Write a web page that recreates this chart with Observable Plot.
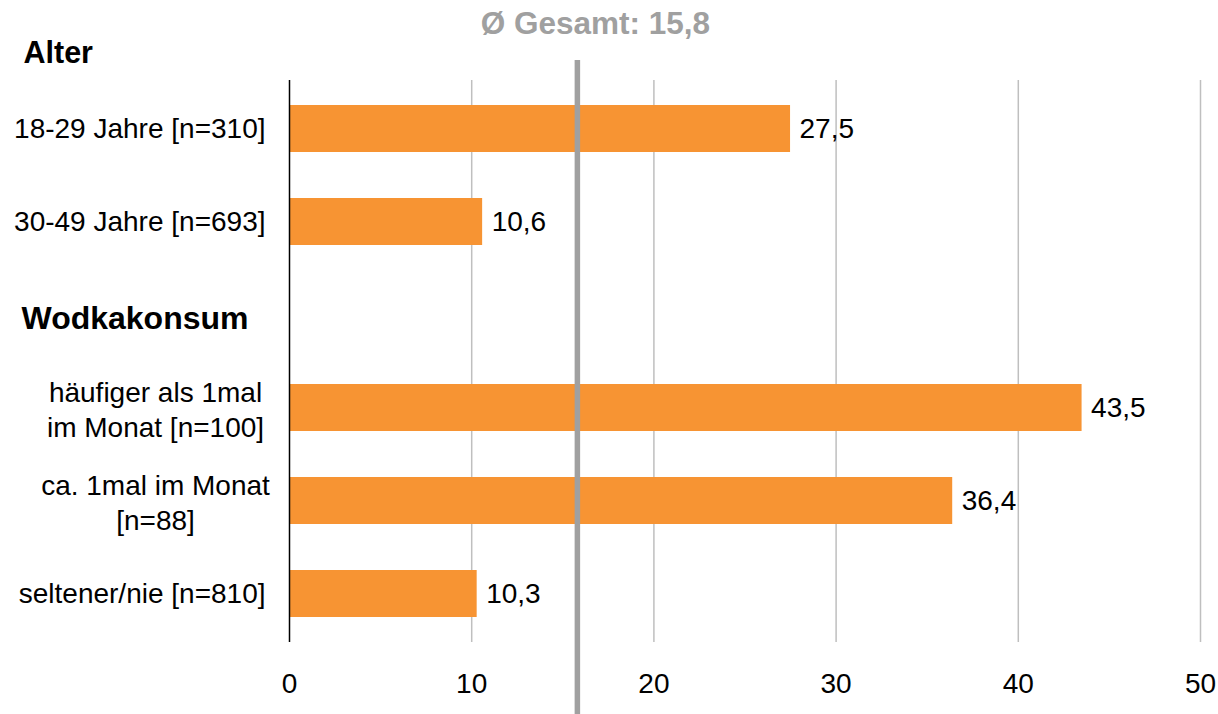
<!DOCTYPE html>
<html lang="de">
<head>
<meta charset="utf-8">
<script src="https://cdn.jsdelivr.net/npm/d3@7"></script>
<script src="https://cdn.jsdelivr.net/npm/@observablehq/plot@0.6"></script>
<style>
  html, body { margin: 0; padding: 0; background: #fff; }
  #chart { width: 1218px; height: 714px; }
</style>
</head>
<body>
<div id="chart"></div>
<script>
// Anteile in Prozent, gruppiert nach Alter und Wodkakonsum
const groups = ["Alter", "Alter", "Wodkakonsum", "Wodkakonsum", "Wodkakonsum"];
const labels = [
  "18-29 Jahre [n=310]",
  "30-49 Jahre [n=693]",
  "häufiger als 1mal\nim Monat [n=100]",
  "ca. 1mal im Monat\n[n=88]",
  "seltener/nie [n=810]"
];
const values = [27.5, 10.6, 43.5, 36.4, 10.3];
const average = 15.8;
const xTicks = [0, 10, 20, 30, 40, 50];

const FONT = "'Liberation Sans', Arial, Helvetica, sans-serif";
const ORANGE = "#f79433";
const GREY = "#a0a0a0";

const rows = labels.map((label, i) => ({group: groups[i], label, value: values[i]}));

// Zeilenfolge: die erste Gruppenüberschrift steht über dem Diagramm,
// jede weitere bekommt eine eigene leere Zeile.
const firstGroup = groups[0];
const domain = [];
const headerRows = [];
rows.forEach((r, i) => {
  if (i > 0 && r.group !== rows[i - 1].group) {
    domain.push(r.group);
    headerRows.push(r.group);
  }
  domain.push(r.label);
});

const comma = v => d3.format(".1f")(v).replace(".", ",");
const singleLine = rows.filter(r => !r.label.includes("\n"));
const multiLine = rows.filter(r => r.label.includes("\n"));

const chart = Plot.plot({
  width: 1218,
  height: 714,
  marginLeft: 289,
  marginRight: 18,
  marginTop: 80,
  marginBottom: 72,
  style: {fontFamily: FONT, fontSize: "28px", background: "#fff", color: "#000"},
  x: {domain: [0, 50], ticks: xTicks, axis: null, label: null},
  y: {domain, paddingInner: 0.5, paddingOuter: 0.25, axis: null, label: null},
  marks: [
    Plot.gridX(xTicks.filter(t => t > 0), {stroke: "#bfbfbf", strokeOpacity: 1, strokeWidth: 1.5}),
    Plot.axisX(xTicks, {
      tickSize: 0, tickPadding: 31, fontSize: 28, fill: "#000",
      tickFormat: d => String(d), label: null
    }),
    Plot.barX(rows, {x: "value", y: "label", fill: ORANGE}),
    Plot.ruleX([0], {stroke: "#000", strokeWidth: 1.5}),
    Plot.text(rows, {
      x: "value", y: "label", text: d => comma(d.value),
      textAnchor: "start", dx: 9, fontSize: 28, fill: "#000"
    }),
    // Kategorienbeschriftungen
    Plot.text(singleLine, {
      y: "label", text: "label", frameAnchor: "left",
      textAnchor: "end", dx: -24, fontSize: 28, fill: "#000"
    }),
    Plot.text(multiLine, {
      y: "label", text: "label", frameAnchor: "left",
      textAnchor: "middle", dx: -134, lineHeight: 1.28, fontSize: 28, fill: "#000"
    }),
    // Gruppenüberschriften
    Plot.text(headerRows, {
      y: d => d, text: d => d, frameAnchor: "left",
      textAnchor: "start", dx: -268, dy: 4, fontSize: 32, fontWeight: "bold", fill: "#000"
    }),
    Plot.text([firstGroup], {
      text: d => d, frameAnchor: "top-left", lineAnchor: "middle",
      textAnchor: "start", dx: -266, dy: -27, fontSize: 30.5, fontWeight: "bold", fill: "#000"
    }),
    // Gesamtdurchschnitt
    Plot.ruleX([average], {stroke: GREY, strokeWidth: 5.5, insetTop: -20, insetBottom: -72}),
    Plot.text([average], {
      x: d => d, text: d => `Ø Gesamt: ${comma(d)}`, frameAnchor: "top", lineAnchor: "middle",
      dx: 18, dy: -57, fontSize: 31.5, fontWeight: "bold", fill: GREY
    })
  ]
});

document.getElementById("chart").appendChild(chart);
</script>
</body>
</html>
